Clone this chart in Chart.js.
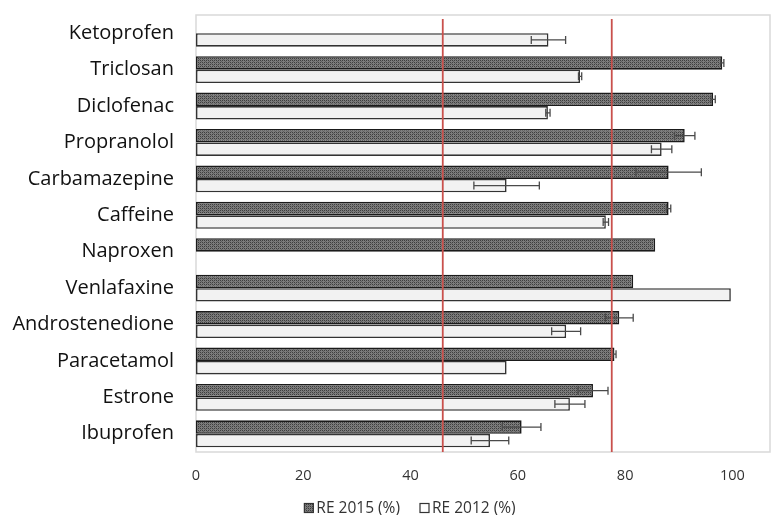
<!DOCTYPE html>
<html>
<head>
<meta charset="utf-8">
<script src="https://cdn.jsdelivr.net/npm/chart.js@4/dist/chart.umd.min.js"></script>
<style>
html,body{margin:0;padding:0;background:#fff;}
#wrap{width:774px;height:515px;position:relative;}
</style>
</head>
<body>
<div id="wrap"><canvas id="c" width="774" height="515"></canvas></div>
<script>
const categories = ['Ketoprofen','Triclosan','Diclofenac','Propranolol','Carbamazepine','Caffeine','Naproxen','Venlafaxine','Androstenedione','Paracetamol','Estrone','Ibuprofen'];
const re2015 = [null, 98.1, 96.4, 91.1, 88.1, 88.1, 85.6, 81.5, 78.9, 78.0, 74.0, 60.7];
const err2015 = [0, 0.3, 0.4, 1.9, 6.1, 0.4, 0, 0, 2.6, 0.3, 2.8, 3.6];
const re2012 = [65.7, 71.6, 65.6, 86.8, 57.9, 76.4, null, 99.7, 69.0, 57.9, 69.7, 54.8];
const err2012 = [3.2, 0.3, 0.4, 1.9, 6.1, 0.5, 0, 0, 2.7, 0, 2.8, 3.5];
const thresholds = [46, 77.5];
const xTicks = [0, 20, 40, 60, 80, 100];
const seriesNames = ['RE 2015 (%)', 'RE 2012 (%)'];

function makeHatch(){
  const p = document.createElement('canvas');
  p.width = 4; p.height = 4;
  const g = p.getContext('2d');
  g.fillStyle = '#7c7c7c';
  g.fillRect(0,0,4,4);
  g.fillStyle = '#3e3e3e';
  g.fillRect(0,0,1,1); g.fillRect(2,2,1,1); g.fillRect(2,0,1,1); g.fillRect(0,2,1,1);
  g.fillStyle = '#5e5e5e';
  g.fillRect(1,1,1,1); g.fillRect(3,3,1,1);
  return document.getElementById('c').getContext('2d').createPattern(p,'repeat');
}
const hatch = makeHatch();

const errorsBySet = [err2015, err2012];

const overlay = {
  id: 'overlay',
  beforeDatasetsDraw(chart){
    const {ctx, chartArea:a} = chart;
    ctx.save();
    ctx.strokeStyle = '#d9d9d9';
    ctx.lineWidth = 1.5;
    ctx.strokeRect(a.left, a.top, a.right - a.left, a.bottom - a.top);
    ctx.restore();
  },
  afterDatasetsDraw(chart){
    const {ctx, chartArea:a, scales} = chart;
    const xs = scales.x;
    ctx.save();
    ctx.strokeStyle = '#4a4a4a';
    ctx.lineWidth = 1.3;
    chart.data.datasets.forEach((ds, di) => {
      const meta = chart.getDatasetMeta(di);
      const errs = errorsBySet[di];
      meta.data.forEach((el, i) => {
        const v = ds.data[i];
        const e = errs[i];
        if (v == null || !e) return;
        const x1 = xs.getPixelForValue(v - e);
        const x2 = xs.getPixelForValue(v + e);
        const y = el.y;
        const h = 4;
        ctx.beginPath();
        ctx.moveTo(x1, y); ctx.lineTo(x2, y);
        ctx.moveTo(x1, y - h); ctx.lineTo(x1, y + h);
        ctx.moveTo(x2, y - h); ctx.lineTo(x2, y + h);
        ctx.stroke();
      });
    });
    ctx.strokeStyle = '#c9504c';
    ctx.lineWidth = 1.8;
    thresholds.forEach(t => {
      const x = xs.getPixelForValue(t);
      ctx.beginPath();
      ctx.moveTo(x, a.top + 4);
      ctx.lineTo(x, a.bottom);
      ctx.stroke();
    });
    ctx.restore();
  },
  afterDraw(chart){
    const {ctx} = chart;
    ctx.save();
    ctx.font = '15.5px "Open Sans"';
    ctx.textBaseline = 'middle';
    const y = 508;
    const box = 9, gap = 3, sep = 20;
    const widths = seriesNames.map(n => ctx.measureText(n).width);
    const total = widths.reduce((s,w) => s + box + gap + w, 0) + sep;
    let x = 410 - total/2;
    const fills = [hatch, '#ffffff'];
    seriesNames.forEach((n, i) => {
      ctx.fillStyle = fills[i];
      ctx.fillRect(x, y - box/2, box, box);
      ctx.strokeStyle = '#333';
      ctx.lineWidth = 1.2;
      ctx.strokeRect(x, y - box/2, box, box);
      ctx.fillStyle = '#333';
      ctx.fillText(n, x + box + gap, y + 0.5);
      x += box + gap + widths[i] + sep;
    });
    ctx.restore();
  }
};

new Chart(document.getElementById('c'), {
  type: 'bar',
  data: {
    labels: categories,
    datasets: [
      {label: seriesNames[0], data: re2015, backgroundColor: hatch, borderColor: '#1a1a1a', borderWidth: 1.6, borderSkipped: false},
      {label: seriesNames[1], data: re2012, backgroundColor: '#f2f2f2', borderColor: '#333', borderWidth: 1.6, borderSkipped: false}
    ]
  },
  options: {
    indexAxis: 'y',
    responsive: false,
    animation: false,
    devicePixelRatio: 1,
    layout: {padding: {top: 15, right: 4, left: 0, bottom: 0}},
    datasets: {bar: {categoryPercentage: 0.74, barPercentage: 1.0}},
    scales: {
      x: {
        min: 0, max: 107,
        grid: {display: false, drawTicks: false},
        border: {display: false},
        afterBuildTicks(s){ s.ticks = xTicks.map(v => ({value: v})); },
        ticks: {font: {family: 'Open Sans', size: 14.5}, color: '#333', padding: 15, includeBounds: false},
        afterFit(s){ s.height = 63; }
      },
      y: {
        grid: {display: false, drawTicks: false},
        border: {display: false},
        ticks: {font: {family: 'Open Sans', size: 20}, color: '#111', padding: 22},
        afterFit(s){ s.width = 196; s.paddingTop = 0; s.paddingBottom = 0; }
      }
    },
    plugins: {
      tooltip: {enabled: false},
      legend: {display: false}
    }
  },
  plugins: [overlay]
});
</script>
</body>
</html>
